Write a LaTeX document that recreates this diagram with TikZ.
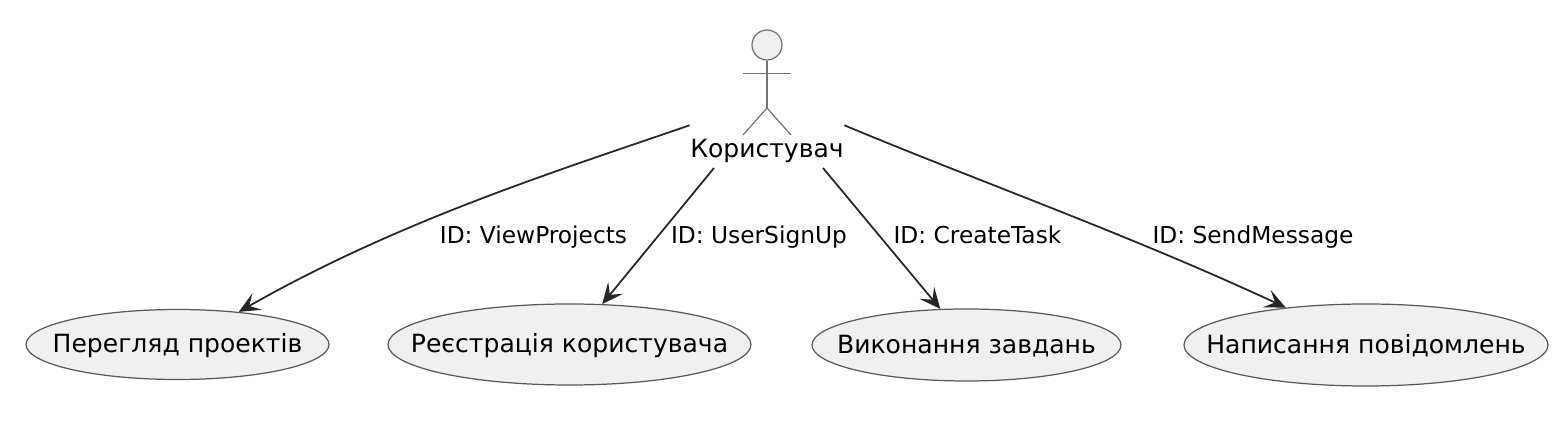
\documentclass[tikz,border=0pt]{standalone}
\usepackage{fontspec}
\setmainfont{DejaVu Sans}
\usetikzlibrary{arrows.meta, positioning, shapes.geometric, calc}

\begin{document}
\begin{tikzpicture}[
  usecase/.style={draw=black!65, ellipse, fill=black!6, line width=0.35pt, inner xsep=-0.4cm, inner ysep=0pt,
                  minimum height=0.70cm, text height=0.22cm, text depth=0.05cm,
                  font=\fontsize{7.13}{8}\selectfont},
  actor/.style  ={draw=black!55, line width=0.35pt},
  who/.style    ={inner sep=0pt, minimum width=1.52cm, minimum height=0.50cm,
                  font=\fontsize{7.13}{8}\selectfont},
  arr/.style    ={-{Stealth[length=0.21cm, width=0.19cm, inset=0.09cm]}, black!85, line width=0.5pt},
  lbl/.style    ={font=\fontsize{6.63}{8}\selectfont, inner sep=0pt, text height=0.18cm, text depth=0.05cm},
]
\useasboundingbox (0,0) rectangle (15.66,4.33);

%% ---- Actor ----
\node[actor, circle, fill=black!6, inner sep=0pt, minimum size=0.30cm] (HD) at (7.67,3.88) {};
\coordinate (HP) at (7.67,3.25);
\coordinate (AL) at (7.43,3.595);
\coordinate (AR) at (7.91,3.595);
\coordinate (FL) at (7.43,2.98);
\coordinate (FR) at (7.91,2.98);
\draw[actor] (HD.south) -- (HP);
\draw[actor] (AL) -- (AR);
\draw[actor] (FL) -- (HP) -- (FR);
\node[who] (U) at (7.67,2.82) {Користувач};
\coordinate (UL) at (7.14,2.65);
\coordinate (UR) at (8.23,2.65);

%% ---- Use cases ----
\node[usecase, minimum width=3.03cm] (E1) at ( 1.775,0.885) {Перегляд проектів};
\node[usecase, minimum width=3.63cm, minimum height=0.81cm] (E2) at ( 5.695,0.885) {Реєстрація користувача};
\node[usecase, minimum width=3.09cm, minimum height=0.72cm] (E3) at ( 9.665,0.88)  {Виконання завдань};
\node[usecase, minimum width=3.64cm, minimum height=0.82cm] (E4) at (13.66, 0.88)  {Написання повідомлень};

%% ---- Actor -> Use cases ----
\draw[arr] (U.north west) .. controls (5.60,2.63) and (4.00,2.13) .. (E1.28);
\draw[arr] (UL) -- (E2.51);
\draw[arr] (UR) -- (E3.126);
\draw[arr] (U.north east) .. controls (9.70,2.55) and (11.30,1.98) .. (E4.155);

%% ---- Labels ----
\node[lbl] (L1) at ( 5.335,1.96) {ID: ViewProjects};
\node[lbl] (L2) at ( 7.59, 1.96) {ID: UserSignUp};
\node[lbl] (L3) at ( 9.775,1.96) {ID: CreateTask};
\node[lbl] (L4) at (12.53, 1.96) {ID: SendMessage};

\end{tikzpicture}
\end{document}
